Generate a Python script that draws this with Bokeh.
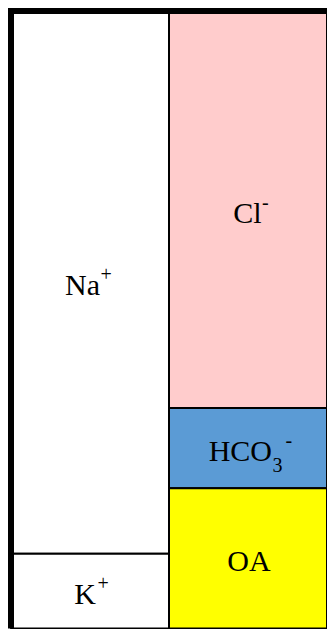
from bokeh.plotting import figure
from bokeh.models import ColumnDataSource, Range1d
from bokeh.embed import file_html
from bokeh.resources import INLINE
from bokeh.core.properties import value

# ---- data (percent of total charge), listed top to bottom ----
cations = ["Na+", "K+"]
cation_values = [87.9, 12.1]
cation_main = ["Na", "K"]
cation_sub = ["", ""]
cation_sup = ["+", "+"]

anions = ["Cl-", "HCO3-", "OA"]
anion_values = [64.3, 13.0, 22.7]
anion_main = ["Cl", "HCO", "OA"]
anion_sub = ["", "3", ""]
anion_sup = ["-", "-", ""]

# ---- styles ----
cation_colors = ["#FFFFFF", "#FFFFFF"]
anion_colors = ["#FFCCCC", "#5B9BD5", "#FFFF00"]
# label offsets in screen pixels (relative to block centre)
cation_main_dx = [10.0, 6.0]
cation_main_align = ["right", "right"]
cation_sub_dx = [0, 0]
cation_sup_dx = [10.5, 7.5]
anion_main_dx = [13.5, 24.0, 1.0]
anion_main_align = ["right", "right", "center"]
anion_sub_dx = [0, 24.5, 0]
anion_sup_dx = [14.0, 37.5, 0]
MAIN_DY = 2.5
SUP_DY = -8.0
SUB_DY = 17.0


def stack(values):
    total = sum(values)
    tops, bottoms = [], []
    acc = total
    for v in values:
        tops.append(acc)
        acc -= v
        bottoms.append(acc)
    return tops, bottoms


rows = dict(left=[], right=[], top=[], bottom=[], color=[], xc=[], yc=[],
            main=[], sub=[], sup=[], main_dx=[], main_align=[], sub_dx=[], sup_dx=[])

for col, (vals, cols, mains, subs, sups, mdx, mal, sbdx, spdx) in enumerate([
    (cation_values, cation_colors, cation_main, cation_sub, cation_sup,
     cation_main_dx, cation_main_align, cation_sub_dx, cation_sup_dx),
    (anion_values, anion_colors, anion_main, anion_sub, anion_sup,
     anion_main_dx, anion_main_align, anion_sub_dx, anion_sup_dx),
]):
    tops, bottoms = stack(vals)
    for i in range(len(vals)):
        rows["left"].append(col)
        rows["right"].append(col + 1)
        rows["top"].append(tops[i])
        rows["bottom"].append(bottoms[i])
        rows["color"].append(cols[i])
        rows["xc"].append(col + 0.5)
        rows["yc"].append((tops[i] + bottoms[i]) / 2)
        rows["main"].append(mains[i])
        rows["sub"].append(subs[i])
        rows["sup"].append(sups[i])
        rows["main_dx"].append(mdx[i])
        rows["main_align"].append(mal[i])
        rows["sub_dx"].append(sbdx[i])
        rows["sup_dx"].append(spdx[i])

src = ColumnDataSource(rows)
total = sum(cation_values)
ncols = 2

W, H = 327, 629
x0_px, colw_px = 10.5, 158.0
y0_px, ytop_px = 628.0, 10.5
yscale = (y0_px - ytop_px) / total

p = figure(width=W, height=H, output_backend="svg", toolbar_location=None,
           x_range=Range1d(-x0_px / colw_px, (W - x0_px) / colw_px),
           y_range=Range1d(-(H - y0_px) / yscale, total + ytop_px / yscale),
           min_border=0, min_border_left=0, min_border_right=0,
           min_border_top=0, min_border_bottom=0)
p.axis.visible = False
p.xgrid.visible = False
p.ygrid.visible = False
p.outline_line_color = None
p.background_fill_color = "white"
p.border_fill_color = "white"

p.quad(left="left", right="right", top="top", bottom="bottom", source=src,
       fill_color="color", line_color="black", line_width=2)

# thick frame on left and top
p.line(x=[0, 0, ncols], y=[0, total, total], line_color="black", line_width=6,
       line_join="miter")

font = value("Liberation Serif")
p.text(x="xc", y="yc", text="main", source=src, text_font=font,
       text_font_size="30px", text_color="black", text_align="main_align",
       text_baseline="alphabetic", x_offset="main_dx", y_offset=MAIN_DY)
p.text(x="xc", y="yc", text="sup", source=src, text_font=font,
       text_font_size="20px", text_color="black", text_align="left",
       text_baseline="alphabetic", x_offset="sup_dx", y_offset=SUP_DY)
p.text(x="xc", y="yc", text="sub", source=src, text_font=font,
       text_font_size="20px", text_color="black", text_align="left",
       text_baseline="alphabetic", x_offset="sub_dx", y_offset=SUB_DY)

open("out.html", "w").write(file_html(p, INLINE))
